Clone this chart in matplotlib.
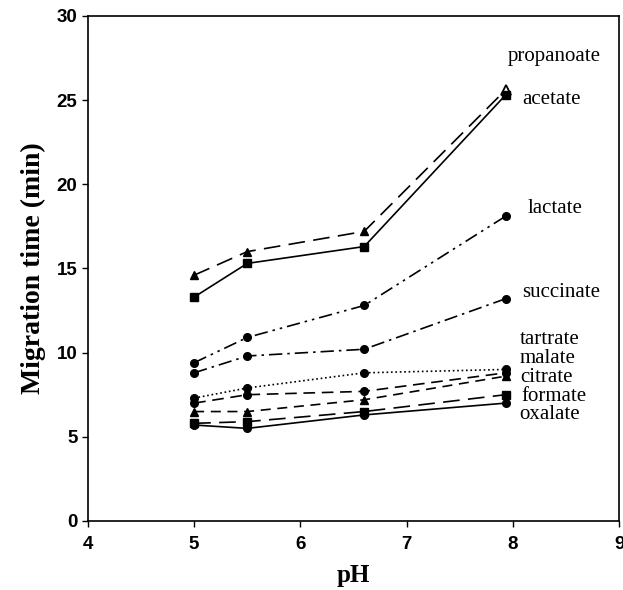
import matplotlib
matplotlib.use('Agg')
import matplotlib.pyplot as plt

# pH values of the runs
ph = [5.0, 5.5, 6.6, 7.93]

# migration times (min)
propanoate = [14.6, 16.0, 17.2, 25.6]
acetate = [13.3, 15.3, 16.3, 25.3]
lactate = [9.4, 10.9, 12.8, 18.1]
succinate = [8.8, 9.8, 10.2, 13.2]
tartrate = [7.3, 7.9, 8.8, 9.0]
malate = [7.0, 7.5, 7.7, 8.8]
citrate = [6.5, 6.5, 7.2, 8.6]
formate = [5.8, 5.9, 6.5, 7.5]
oxalate = [5.7, 5.5, 6.3, 7.0]

names = ['propanoate', 'acetate', 'lactate', 'succinate', 'tartrate',
         'malate', 'citrate', 'formate', 'oxalate']
label_x = [7.95, 8.09, 8.14, 8.09, 8.06, 8.06, 8.07, 8.08, 8.06]
label_y = [27.6, 25.05, 18.55, 13.6, 10.75, 9.66, 8.5, 7.4, 6.35]

fig = plt.figure(figsize=(6.23, 5.9), dpi=100)
ax = fig.add_axes([0.141, 0.117, 0.853, 0.856])

kw = dict(color='black', lw=1.2, ms=5.5)
ax.plot(ph, propanoate, marker='^', dashes=(10, 5), **kw)
ax.plot(ph[-1], propanoate[-1], marker='^', color='black', mfc='white', ms=6.5, mew=1.3)
ax.plot(ph, acetate, marker='s', ls='-', **kw)
ax.plot(ph, lactate, marker='o', dashes=(8, 3, 1.5, 3, 1.5, 3), **kw)
ax.plot(ph, succinate, marker='o', dashes=(8, 3, 1.5, 3), **kw)
ax.plot(ph, tartrate, marker='o', ls=':', **kw)
ax.plot(ph, malate, marker='o', dashes=(7, 4), **kw)
ax.plot(ph, citrate, marker='^', dashes=(6, 4), **kw)
ax.plot(ph, formate, marker='s', dashes=(10, 5), **kw)
ax.plot(ph, oxalate, marker='o', ls='-', **kw)

for n, x, y in zip(names, label_x, label_y):
    ax.text(x, y, n, family='Liberation Serif', fontsize=15, va='center', ha='left')

ax.set_xlim(4, 9)
ax.set_ylim(0, 30)
ax.set_xticks([4, 5, 6, 7, 8, 9])
ax.set_yticks([0, 5, 10, 15, 20, 25, 30])
for t in ax.get_xticklabels() + ax.get_yticklabels():
    t.set_family('Liberation Sans')
    t.set_fontweight('bold')
    t.set_fontsize(13.5)
ax.tick_params(direction='out', length=4, width=1)
ax.tick_params(axis='x', pad=7)
ax.set_xlabel('pH', family='Liberation Serif', fontweight='bold', fontsize=18, labelpad=8)
ax.set_ylabel('Migration time (min)', family='Liberation Serif', fontweight='bold', fontsize=20, labelpad=8)
for s in ax.spines.values():
    s.set_linewidth(1.2)

fig.savefig('out.png', dpi=100)
